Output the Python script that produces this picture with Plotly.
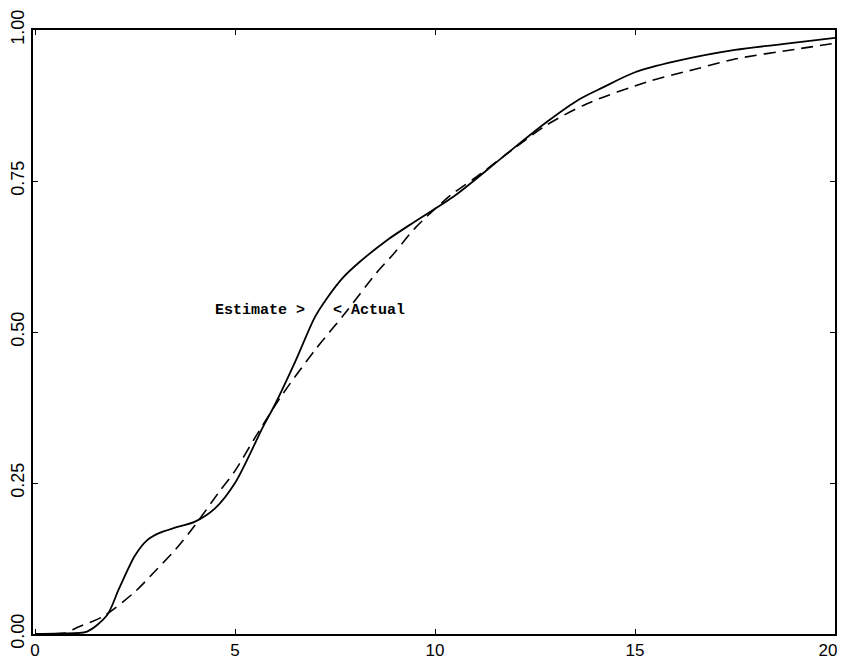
import plotly.graph_objects as go

# Estimate (solid)
est_x = [0, 0.6, 1.3, 1.8, 2.1, 2.5, 2.8, 3.1, 3.5, 4.0, 4.5, 5.0, 5.7, 6.0, 6.5, 7.0, 7.3, 7.7,
         8.1, 8.8, 9.5, 10.5, 11.7, 12.8, 13.6, 14.2, 15.0, 16.0, 17.5, 19.0, 20.0]
est_y = [0, 0.001, 0.004, 0.031, 0.075, 0.13, 0.155, 0.167, 0.176, 0.186, 0.208, 0.25, 0.343,
         0.38, 0.45, 0.525, 0.556, 0.59, 0.615, 0.652, 0.683, 0.726, 0.79, 0.848, 0.885, 0.905,
         0.93, 0.948, 0.967, 0.979, 0.987]

# Actual (dashed)
act_x = [0, 0.7, 1.1, 1.7, 2.5, 3.0, 3.5, 4.0, 4.6, 5.0, 5.5, 6.2, 7.0, 7.8, 8.5, 9.0, 9.5,
         10.4, 11.0, 12.0, 12.8, 13.8, 15.3, 16.5, 17.5, 19.0, 20.0]
act_y = [0, 0.001, 0.012, 0.029, 0.07, 0.104, 0.139, 0.18, 0.235, 0.27, 0.325, 0.398, 0.47,
         0.535, 0.595, 0.632, 0.672, 0.727, 0.755, 0.805, 0.843, 0.878, 0.914, 0.935, 0.952,
         0.968, 0.978]

x_ticks = [0, 5, 10, 15, 20]
x_tick_text = ["0", "5", "10", "15", "20\u00a0\u00a0\u00a0"]
y_ticks = [0, 0.25, 0.5, 0.75, 1.0]
y_tick_text = ["0.00", "0.25", "0.50", "0.75", "1.00"]

fig = go.Figure()
fig.add_trace(go.Scatter(x=est_x, y=est_y, mode="lines", name="Estimate",
                         line=dict(color="black", width=1.8, shape="spline", smoothing=0.8)))
fig.add_trace(go.Scatter(x=act_x, y=act_y, mode="lines", name="Actual",
                         line=dict(color="black", width=1.6, dash="12px,7px",
                                   shape="spline", smoothing=0.8)))

fig.add_annotation(x=6.8, y=0.535, text="<b>Estimate ></b>", showarrow=False, xanchor="right",
                   font=dict(family="Liberation Mono", size=15, color="black"))
fig.add_annotation(x=7.4, y=0.535, text="<b>< Actual</b>", showarrow=False, xanchor="left",
                   font=dict(family="Liberation Mono", size=15, color="black"))

fig.update_layout(
    width=834, height=652,
    margin=dict(l=25, r=7, t=22, b=26, autoexpand=False),
    paper_bgcolor="white", plot_bgcolor="white",
    showlegend=False,
    font=dict(family="Liberation Sans", size=18, color="black"),
)
fig.update_xaxes(range=[-0.05, 20], tickvals=x_ticks, ticktext=x_tick_text, ticks="inside",
                 ticklen=5, tickcolor="black", showline=True, linecolor="black", linewidth=2,
                 mirror="ticks", showgrid=False, zeroline=False, automargin=False,
                 tickfont=dict(size=17), ticklabeloverflow="allow")
fig.update_yaxes(range=[0, 1.0], tickvals=y_ticks, ticktext=y_tick_text, tickangle=-90,
                 ticks="inside", ticklen=5, tickcolor="black", showline=True,
                 linecolor="black", linewidth=2, mirror="ticks", showgrid=False,
                 zeroline=False, automargin=False, ticklabeloverflow="allow")

fig.write_html("out.html")
